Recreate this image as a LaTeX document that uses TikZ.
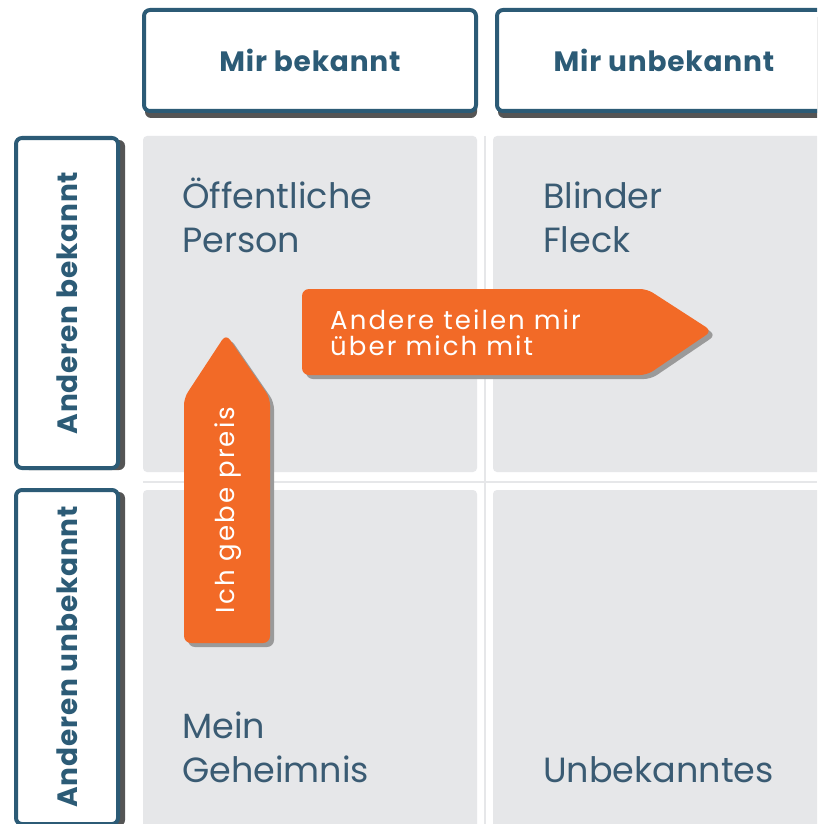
\documentclass[tikz,border=0pt]{standalone}
\usepackage{fontspec}
\setmainfont{Poppins}
\usetikzlibrary{shadows}
\definecolor{cellgrey}{HTML}{E6E7E9}
\definecolor{framecol}{HTML}{2C5B76}
\definecolor{txtcol}{HTML}{3A5B73}
\definecolor{orangecol}{HTML}{F26A27}
\definecolor{shadecol}{HTML}{555555}
\definecolor{arrowshade}{HTML}{9A9A9A}
\begin{document}
\begin{tikzpicture}[x=1pt,y=-1pt,
  headbox/.style={draw=framecol, line width=4pt, fill=white, rounded corners=6pt,
    text=framecol, font=\fontsize{28}{30}\selectfont\bfseries\addfontfeatures{LetterSpace=3}, inner sep=0pt,
    drop shadow={shadow xshift=1pt, shadow yshift=-7pt, fill=shadecol, opacity=1}},
  sidebox/.style={draw=framecol, line width=4pt, fill=white, rounded corners=6pt,
    inner sep=0pt,
    drop shadow={shadow xshift=7pt, shadow yshift=-2pt, fill=shadecol, opacity=1}},
  sidetext/.style={text=framecol, font=\fontsize{28}{30}\selectfont\bfseries\addfontfeatures{LetterSpace=3}, rotate=90, inner sep=0pt},
  cellbox/.style={fill=cellgrey, rounded corners=4pt},
  quadtext/.style={text=txtcol, font=\fontsize{35}{44}\selectfont, align=left, anchor=base west, inner sep=0pt},
  arrowshape/.style={fill=orangecol, rounded corners=7pt},
  arrowshadow/.style={fill=arrowshade, rounded corners=7pt},
  arrowtext/.style={text=white, font=\fontsize{26}{26}\selectfont\addfontfeatures{LetterSpace=8}, inner sep=0pt}
]
\useasboundingbox (0,0) rectangle (817,824);
\clip (0,0) rectangle (817,824);
\fill[white] (0,0) rectangle (817,824);

% cells
\fill[cellbox] (143,136) rectangle (477,472);
\fill[cellbox] (493,136) rectangle (840,472);
\fill[cellbox] (143,490) rectangle (477,840);
\fill[cellbox] (493,490) rectangle (840,840);
\draw[cellgrey, line width=1.5pt] (485,136) -- (485,824);
\draw[cellgrey, line width=1.5pt] (143,482) -- (817,482);

% headers
\node[headbox, minimum width=332pt, minimum height=101pt] (h1) at (310,60.5) {Mir bekannt};
\node[headbox, minimum width=334pt, minimum height=101pt] (h2) at (664,60.5) {Mir unbekannt};

% side boxes
\node[sidebox, minimum width=102pt, minimum height=330pt] (s1) at (67,303) {};
\node[sidetext] (s1t) at (s1.center) {Anderen bekannt};
\node[sidebox, minimum width=102pt, minimum height=334pt] (s2) at (67,657) {};
\node[sidetext] (s2t) at (s2.center) {Anderen unbekannt};

% quadrant labels (anchor = baseline of last line)
\node[quadtext] (q1) at (182,252) {Öffentliche\\Person};
\node[quadtext] (q2) at (543,252) {Blinder\\Fleck};
\node[quadtext] (q3) at (182,782) {Mein\\Geheimnis};
\node[quadtext] (q4) at (543,782) {Unbekanntes};

% horizontal arrow
\fill[arrowshadow] (306,293) -- (651,293) -- (716,335) -- (651,379) -- (306,379) -- cycle;
\fill[arrowshape] (302,289) -- (647,289) -- (712,331) -- (647,375) -- (302,375) -- cycle;
\node[arrowtext, align=left, anchor=west] (a1) at (330,333) {Andere teilen mir\\über mich mit};

% vertical arrow
\fill[arrowshadow] (188,647) -- (188,402) -- (230,338) -- (274,402) -- (274,647) -- cycle;
\fill[arrowshape] (184,643) -- (184,398) -- (226,334) -- (270,398) -- (270,643) -- cycle;
\node[arrowtext, rotate=90] (a2) at (228,510) {Ich gebe preis};
\end{tikzpicture}
\end{document}
